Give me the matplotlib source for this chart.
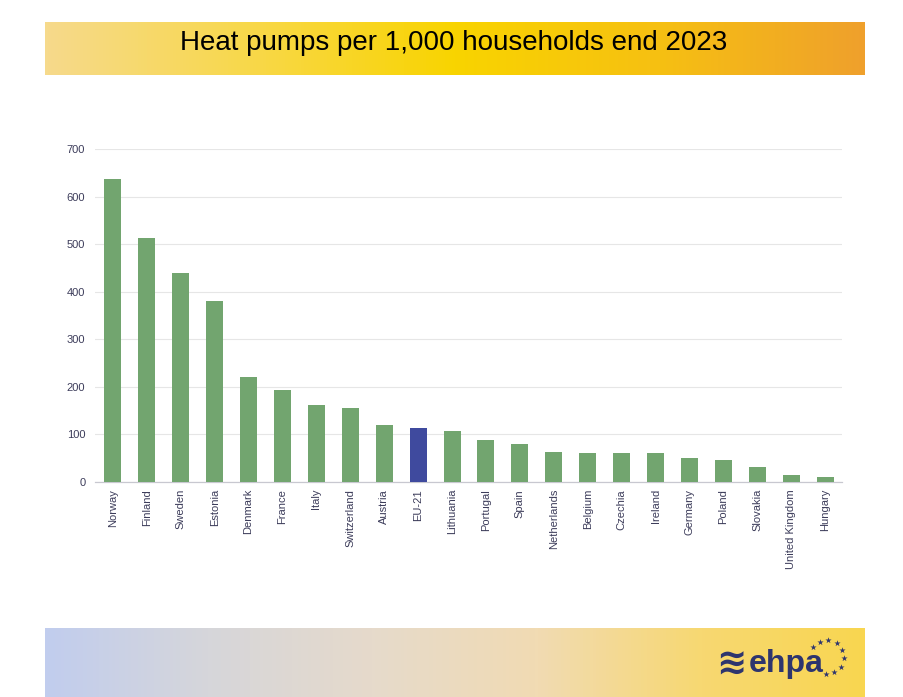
import numpy as np
import matplotlib
matplotlib.use("Agg")
import matplotlib.pyplot as plt
from matplotlib.colors import LinearSegmentedColormap

plt.rcParams["font.family"] = ["Liberation Sans", "DejaVu Sans"]

# ---------------------------------------------------------------------------
# Data
# ---------------------------------------------------------------------------
countries = ["Norway", "Finland", "Sweden", "Estonia", "Denmark", "France", "Italy",
             "Switzerland", "Austria", "EU-21", "Lithuania", "Portugal", "Spain",
             "Netherlands", "Belgium", "Czechia", "Ireland", "Germany", "Poland",
             "Slovakia", "United Kingdom", "Hungary"]
per_1000 = [636, 513, 439, 380, 221, 193, 162, 156, 120, 113, 108, 89, 79,
            64, 62, 62, 61, 50, 47, 31, 15, 11]
highlight = "EU-21"
y_ticks = [0, 100, 200, 300, 400, 500, 600, 700]

GREEN = "#72a56f"
BLUE = "#3f4a9e"
TICK_COLOR = "#3c3c5a"
NAVY = "#2e356e"

W, H = 904, 697
fig = plt.figure(figsize=(W / 100, H / 100), dpi=100)
fig.patch.set_facecolor("white")


def px_axes(x0, y0, x1, y1):
    """Axes covering a pixel box (top-left origin), with pixel data coords."""
    a = fig.add_axes([x0 / W, 1 - y1 / H, (x1 - x0) / W, (y1 - y0) / H])
    a.set_xlim(x0, x1)
    a.set_ylim(y1, y0)
    return a


def gradient(ax, colors):
    cmap = LinearSegmentedColormap.from_list("g", colors)
    grad = np.linspace(0, 1, 256).reshape(1, -1)
    x0, x1 = ax.get_xlim()
    y1, y0 = ax.get_ylim()
    ax.imshow(grad, aspect="auto", cmap=cmap, extent=[x0, x1, y1, y0])
    ax.set_xlim(x0, x1)
    ax.set_ylim(y1, y0)
    ax.axis("off")


# ---------------------------------------------------------------------------
# Title banner
# ---------------------------------------------------------------------------
top = px_axes(45, 22, 865, 75)
gradient(top, ["#f6da8c", "#f8d84a", "#f9d400", "#f6c012", "#efa02c"])
top.text(454, 43, "Heat pumps per 1,000 households end 2023", ha="center", va="center",
         fontsize=20, color="black")

# ---------------------------------------------------------------------------
# Bottom banner with logo
# ---------------------------------------------------------------------------
bot = px_axes(45, 628, 865, 697)
gradient(bot, ["#c1cdee", "#d6d6da", "#e6dacb", "#f1dbb3", "#f7d872", "#f9d650"])
bot.text(731, 665, "≋", ha="center", va="center", fontsize=26,
         color=NAVY, family=["DejaVu Sans"], fontweight="bold")
bot.text(749, 664, "ehpa", ha="left", va="center", fontsize=23,
         color=NAVY, fontweight="bold")
ang = np.radians(np.linspace(145, -95, 9))
bot.scatter(827 + 17 * np.cos(ang), 657 - 17 * np.sin(ang),
            marker="*", s=22, color=NAVY, linewidths=0)

# ---------------------------------------------------------------------------
# Bar chart
# ---------------------------------------------------------------------------
ax = fig.add_axes([95 / W, 1 - 482 / H, (842 - 95) / W, (482 - 149) / H])
x = np.arange(len(countries))
colors = [BLUE if c == highlight else GREEN for c in countries]
ax.bar(x, per_1000, width=0.5, color=colors, zorder=3)

ax.set_ylim(0, 700)
ax.set_xlim(-0.53, len(countries) - 0.5)
ax.set_yticks(y_ticks)
ax.set_yticklabels([str(v) for v in y_ticks])
ax.set_xticks(x)
ax.set_xticklabels(countries, rotation=90)
ax.tick_params(axis="both", length=0, labelsize=8, colors=TICK_COLOR)
ax.tick_params(axis="y", pad=7)
ax.tick_params(axis="x", pad=5)
ax.grid(axis="y", color="#e6e6e6", linewidth=0.8, zorder=0)
for side in ["top", "right", "left"]:
    ax.spines[side].set_visible(False)
ax.spines["bottom"].set_color("#c8c8d0")
ax.spines["bottom"].set_linewidth(0.9)
ax.set_facecolor("white")

fig.savefig("out.png", dpi=100)
